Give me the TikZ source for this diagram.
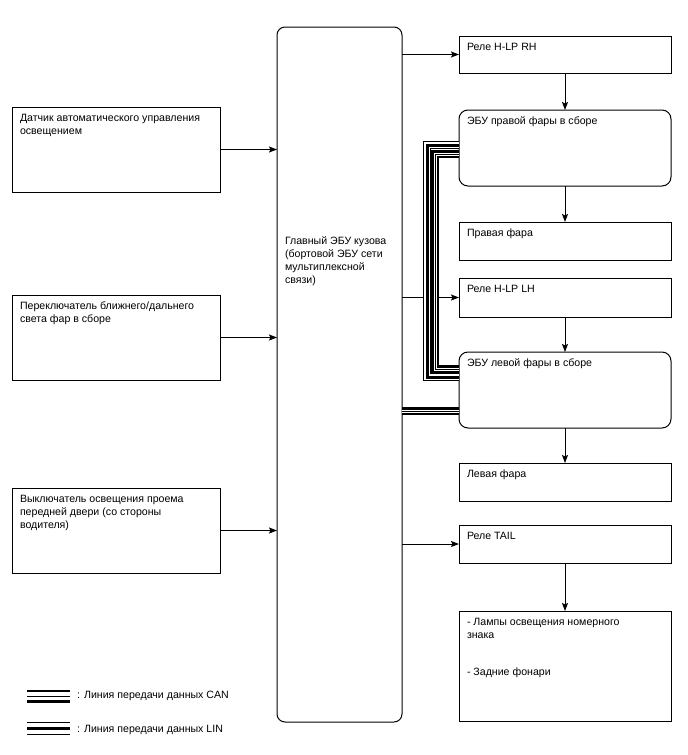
\documentclass[tikz,border=0pt]{standalone}
\usepackage{fontspec}
\setmainfont{Liberation Sans}
\usetikzlibrary{arrows.meta,positioning}
\newcommand{\celltext}[3]{\parbox[c][#2][t]{#1}{\vspace*{3pt}#3}}

\begin{document}
\begin{tikzpicture}[
    x=1pt, y=-1pt,
    every node/.style={font=\fontsize{10.6}{13}\selectfont},
    box/.style={rectangle, draw, line width=1pt, outer sep=0pt, inner xsep=8pt, inner ysep=4pt, anchor=north west},
    ecu/.style={box, rounded corners=9pt},
    arrow/.style={line width=1pt, -{Stealth[length=8pt, width=6pt, inset=1.5pt]}},
    canbus/.style={line width=1pt, preaction={draw, line width=#1}, preaction={draw=white, line width=#1-5pt}},
    canbus/.default=8pt,
    linbus/.style={line width=3pt, preaction={draw, line width=#1}, preaction={draw=white, line width=#1-2pt}},
    linbus/.default=8pt
]
\useasboundingbox (0,0) rectangle (688,755);

% Switches and sensor on the left
\node[box] (sensor) at (12,107) {\celltext{192pt}{77pt}{Датчик автоматического управления\\освещением}};
\node[box, below=103pt of sensor] (beamsw) {\celltext{192pt}{77pt}{Переключатель ближнего/дальнего\\света фар в сборе}};
\node[box, below=108pt of beamsw] (doorsw) {\celltext{192pt}{77pt}{Выключатель освещения проема\\передней двери (со стороны\\водителя)}};

% Main body ECU
\node[ecu, rounded corners=8pt] (main) at (277,27) {\celltext{109pt}{687pt}{\vspace*{203pt}Главный ЭБУ кузова\\(бортовой ЭБУ сети\\мультиплексной\\связи)}};

% Relays, ECUs and lamps on the right
\node[box] (relayRH) at (459,36) {\celltext{196pt}{29pt}{Реле H-LP RH}};
\node[ecu, below=37pt of relayRH] (ecuRH) {\celltext{196pt}{68pt}{ЭБУ правой фары в сборе}};
\node[box, below=36pt of ecuRH] (lampRH) {\celltext{196pt}{30pt}{Правая фара}};
\node[box, below=18pt of lampRH] (relayLH) {\celltext{196pt}{31pt}{Реле H-LP LH}};
\node[ecu, below=35pt of relayLH] (ecuLH) {\celltext{196pt}{68pt}{ЭБУ левой фары в сборе}};
\node[box, below=35pt of ecuLH] (lampLH) {\celltext{196pt}{30pt}{Левая фара}};
\node[box, below=24pt of lampLH] (relayTail) {\celltext{196pt}{30pt}{Реле TAIL}};
\node[box, below=48pt of relayTail] (plate) {\celltext{196pt}{102pt}{- Лампы освещения номерного\\знака\\[24pt]- Задние фонари}};

% Inputs
\draw[arrow] (sensor.east) -- (sensor.east -| main.west);
\draw[arrow] (beamsw.east) -- (beamsw.east -| main.west);
\draw[arrow] (doorsw.east) -- (doorsw.east -| main.west);

% Outputs
\draw[arrow] (main.east |- relayRH.west) -- (relayRH.west);
\draw[arrow] (main.east |- relayLH.west) -- (relayLH.west);
\draw[arrow] (main.east |- relayTail.west) -- (relayTail.west);
\draw[arrow] (relayRH) -- (ecuRH);
\draw[arrow] (ecuRH) -- (lampRH);
\draw[arrow] (relayLH) -- (ecuLH);
\draw[arrow] (ecuLH) -- (lampLH);
\draw[arrow] (relayTail) -- (plate);

% Bus lines
\coordinate (linx) at (427,0);
\coordinate (canx) at (435,0);
\coordinate (linR) at ([yshift=3pt]ecuRH.west);
\coordinate (linL) at ([yshift=13pt]ecuLH.west);
\coordinate (canR) at ([yshift=-6pt]ecuRH.west);
\coordinate (canL) at ([yshift=21pt]ecuLH.west);
\coordinate (canM) at ([yshift=-21pt]ecuLH.west);
\draw[linbus] (linR) -| (linx |- linL) -- (linL);
\draw[canbus] (canR) -| (canx |- canL) -- (canL);
\draw[canbus] (main.east |- canM) -- (canM);

% Legend
\coordinate (canA) at (27,696);
\coordinate (canB) at (70,696);
\coordinate (linA) at (27,728);
\coordinate (linB) at (70,728);
\draw[canbus=13pt] (canA) -- (canB);
\draw[linbus=13pt] (linA) -- (linB);
\node[anchor=west, inner sep=0pt] (canlbl) at (77,696) {: Линия передачи данных CAN};
\node[anchor=west, inner sep=0pt] (linlbl) at (77,730) {: Линия передачи данных LIN};

\end{tikzpicture}
\end{document}
